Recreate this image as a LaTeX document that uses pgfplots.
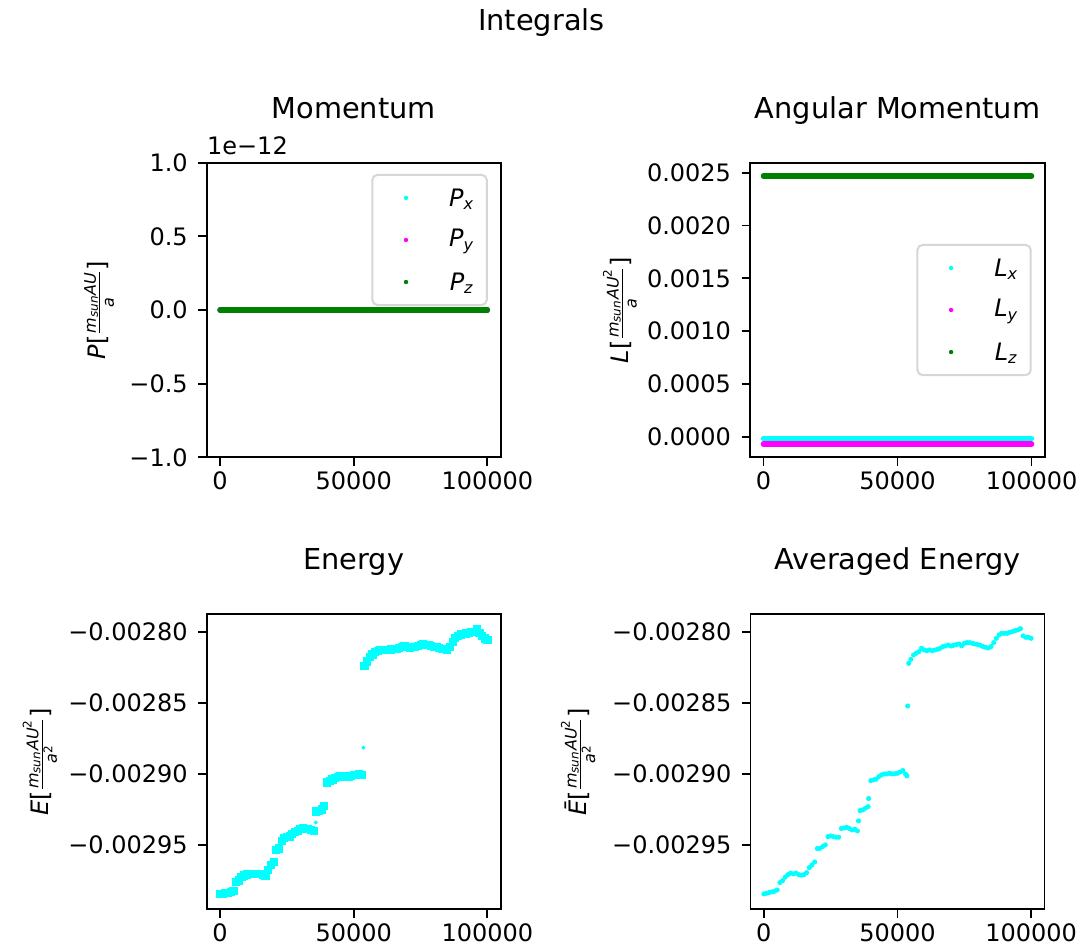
\documentclass[border=0pt]{standalone}
\usepackage{pgfplots}
\pgfplotsset{compat=1.18}
\usepackage{pgfplotstable}
\usepackage{amsmath}
\usepackage{fontspec}
\setmainfont{DejaVu Sans}

\definecolor{mcyan}{HTML}{00FFFF}
\definecolor{mmagenta}{HTML}{FF00FF}
\definecolor{mgreen}{HTML}{008000}

% constant integrals (momentum and angular momentum)
\pgfplotstableread{
t      px py pz lx         ly         lz
0      0  0  0  -0.0000189 -0.0000694 0.0024684
10000  0  0  0  -0.0000189 -0.0000694 0.0024684
20000  0  0  0  -0.0000189 -0.0000694 0.0024684
30000  0  0  0  -0.0000189 -0.0000694 0.0024684
40000  0  0  0  -0.0000189 -0.0000694 0.0024684
50000  0  0  0  -0.0000189 -0.0000694 0.0024684
60000  0  0  0  -0.0000189 -0.0000694 0.0024684
70000  0  0  0  -0.0000189 -0.0000694 0.0024684
80000  0  0  0  -0.0000189 -0.0000694 0.0024684
90000  0  0  0  -0.0000189 -0.0000694 0.0024684
100000 0  0  0  -0.0000189 -0.0000694 0.0024684
}\consttab

% energy
\pgfplotstableread{
t e
0 -0.0029847
1000 -0.0029845
2000 -0.0029840
3000 -0.0029837
4000 -0.0029833
5000 -0.0029825
6000 -0.0029760
7000 -0.0029750
8000 -0.0029725
9000 -0.0029715
10000 -0.0029708
11000 -0.0029705
12000 -0.0029704
13000 -0.0029702
14000 -0.0029704
15000 -0.0029706
16000 -0.0029710
17000 -0.0029715
18000 -0.0029675
19000 -0.0029640
20000 -0.0029620
21000 -0.0029535
22000 -0.0029525
23000 -0.0029470
24000 -0.0029450
25000 -0.0029445
26000 -0.0029440
27000 -0.0029420
28000 -0.0029410
29000 -0.0029400
30000 -0.0029390
31000 -0.0029380
32000 -0.0029385
33000 -0.0029390
34000 -0.0029395
35000 -0.0029400
36000 -0.0029265
37000 -0.0029260
38000 -0.0029250
39000 -0.0029225
40000 -0.0029060
41000 -0.0029050
42000 -0.0029040
43000 -0.0029030
44000 -0.0029022
45000 -0.0029018
46000 -0.0029015
47000 -0.0029020
48000 -0.0029018
49000 -0.0029012
50000 -0.0029010
51000 -0.0029005
52000 -0.0029000
53000 -0.0029010
54000 -0.0028240
55000 -0.0028210
56000 -0.0028180
57000 -0.0028160
58000 -0.0028145
59000 -0.0028135
60000 -0.0028130
61000 -0.0028128
62000 -0.0028130
63000 -0.0028128
64000 -0.0028125
65000 -0.0028122
66000 -0.0028120
67000 -0.0028112
68000 -0.0028105
69000 -0.0028100
70000 -0.0028105
71000 -0.0028112
72000 -0.0028110
73000 -0.0028105
74000 -0.0028100
75000 -0.0028095
76000 -0.0028090
77000 -0.0028092
78000 -0.0028095
79000 -0.0028100
80000 -0.0028105
81000 -0.0028110
82000 -0.0028115
83000 -0.0028120
84000 -0.0028122
85000 -0.0028128
86000 -0.0028105
87000 -0.0028070
88000 -0.0028042
89000 -0.0028028
90000 -0.0028019
91000 -0.0028015
92000 -0.0028012
93000 -0.0028008
94000 -0.0028004
95000 -0.0028000
96000 -0.0027984
97000 -0.0028007
98000 -0.0028030
99000 -0.0028047
100000 -0.0028059
}\energytab

% averaged energy
\pgfplotstableread{
t e
0 -0.0029845
1000 -0.0029840
2000 -0.0029835
3000 -0.0029831
4000 -0.0029826
5000 -0.0029817
6000 -0.0029765
7000 -0.0029751
8000 -0.0029727
9000 -0.0029709
10000 -0.0029699
11000 -0.0029704
12000 -0.0029699
13000 -0.0029709
14000 -0.0029713
15000 -0.0029709
16000 -0.0029695
17000 -0.0029660
18000 -0.0029641
19000 -0.0029620
20000 -0.0029526
21000 -0.0029524
22000 -0.0029512
23000 -0.0029500
24000 -0.0029442
25000 -0.0029437
26000 -0.0029442
27000 -0.0029446
28000 -0.0029446
29000 -0.0029385
30000 -0.0029381
31000 -0.0029376
32000 -0.0029385
33000 -0.0029395
34000 -0.0029390
35000 -0.0029402
35400 -0.0029331
36000 -0.0029259
37000 -0.0029254
38000 -0.0029242
39000 -0.0029231
39200 -0.0029174
40000 -0.0029048
41000 -0.0029043
42000 -0.0029038
43000 -0.0029020
44000 -0.0029008
45000 -0.0029001
46000 -0.0029001
47000 -0.0028996
48000 -0.0029001
49000 -0.0028999
50000 -0.0028996
51000 -0.0028987
52000 -0.0028977
53000 -0.0029001
53500 -0.0029015
53800 -0.0028523
54200 -0.0028223
55000 -0.0028195
56000 -0.0028164
57000 -0.0028152
58000 -0.0028141
59000 -0.0028117
60000 -0.0028129
61000 -0.0028134
62000 -0.0028129
63000 -0.0028134
64000 -0.0028129
65000 -0.0028124
66000 -0.0028117
67000 -0.0028105
68000 -0.0028101
69000 -0.0028094
70000 -0.0028101
71000 -0.0028096
72000 -0.0028091
73000 -0.0028087
74000 -0.0028100
75000 -0.0028082
76000 -0.0028077
77000 -0.0028077
78000 -0.0028082
79000 -0.0028087
80000 -0.0028091
81000 -0.0028096
82000 -0.0028105
83000 -0.0028110
84000 -0.0028115
85000 -0.0028105
86000 -0.0028077
87000 -0.0028047
88000 -0.0028023
89000 -0.0028012
90000 -0.0028012
91000 -0.0028012
92000 -0.0028005
93000 -0.0028000
94000 -0.0027993
95000 -0.0027988
96000 -0.0027979
97000 -0.0028030
98000 -0.0028040
99000 -0.0028040
100000 -0.0028047
}\avgtab

\pgfplotsset{
  mpl/.style={
    scale only axis, anchor=south west,
    width=147pt, height=147.3pt,
    xmin=-5000, xmax=105000,
    scaled ticks=false,
    axis line style={line width=0.9pt},
    tick align=outside, tick pos=left,
    major tick length=4.2pt,
    every tick/.style={black, line width=0.9pt},
    xtick={0,50000,100000}, xticklabels={0,50000,100000},
    ticklabel style={font=\fontsize{12}{14}\selectfont, inner sep=0pt},
    xticklabel shift=2.6pt, yticklabel shift=5.1pt,
    every axis title shift=0pt,
    title style={at={(axis description cs:0.5,1)}, anchor=base, yshift=22.3pt,
      inner sep=0pt, font=\fontsize{14.4}{17}\selectfont},
    ylabel style={anchor=center, inner sep=0pt, font=\fontsize{12}{14}\selectfont},
    legend image code/.code={\path[draw=none, fill=none] (0pt,-5pt) rectangle (38.4pt,5pt);
      \fill[draw=none] (16.8pt,0pt) circle (1.1pt);},
    legend style={draw=black!16, line width=1pt, rounded corners=2.5pt,
      fill=white, inner xsep=0pt, inner ysep=5.6pt, row sep=8.4pt,
      nodes={inner sep=0pt, text depth=},
      font=\fontsize{12}{14}\selectfont},
  },
  constline/.style={no marks, line width=2.7pt, line cap=round},
}

\newcommand{\legtxt}[2]{\rule[-1.6pt]{0pt}{11.6pt}$\textit{#1}_{\textit{#2}}$\rule{6.3pt}{0pt}}

\begin{document}
\begin{tikzpicture}
\path[use as bounding box] (0,0) rectangle (539pt,474.5pt);

\node[anchor=base, inner sep=0pt, font=\fontsize{14.4}{17}\selectfont] at (270.75pt,459.2pt) {Integrals};

% Momentum
\begin{axis}[mpl, name=mom, at={(103.35pt,245.85pt)},
  title={Momentum},
  ymin=-1, ymax=1,
  ytick={-1,-0.5,0,0.5,1}, yticklabels={−1.0,−0.5,0.0,0.5,1.0},
  ylabel={\textit{P}[$\frac{\textit{m}_{\textit{sun}}\textit{AU}}{\textit{a}}$]},
  ylabel style={at={(axis description cs:-0.366,0.5)}},
  legend style={at={(axis description cs:0.956,0.962)}, anchor=north east},
]
\addplot[constline, color=mcyan] table[x=t, y=px] {\consttab};
\addlegendentry{\legtxt{P}{x}}
\addplot[constline, color=mmagenta] table[x=t, y=py] {\consttab};
\addlegendentry{\legtxt{P}{y}}
\addplot[constline, color=mgreen] table[x=t, y=pz] {\consttab};
\addlegendentry{\legtxt{P}{z}}
\end{axis}
\node[anchor=base west, inner sep=0pt, font=\fontsize{12}{14}\selectfont]
  at ([yshift=3.9pt]mom.north west) {1e−12};

% Angular momentum
\begin{axis}[mpl, at={(375pt,245.85pt)}, width=147.5pt,
  title={Angular Momentum},
  ymin=-0.0001957, ymax=0.0025947,
  ytick={0,0.0005,0.001,0.0015,0.002,0.0025},
  yticklabels={0.0000,0.0005,0.0010,0.0015,0.0020,0.0025},
  ylabel={\textit{L}[$\frac{\textit{m}_{\textit{sun}}\textit{AU}^{\text{2}}}{\textit{a}}$]},
  ylabel style={at={(axis description cs:-0.441,0.5)}},
  legend style={at={(axis description cs:0.955,0.5)}, anchor=east},
]
\addplot[constline, color=mcyan] table[x=t, y=lx] {\consttab};
\addlegendentry{\legtxt{L}{x}}
\addplot[constline, color=mmagenta] table[x=t, y=ly] {\consttab};
\addlegendentry{\legtxt{L}{y}}
\addplot[constline, color=mgreen] table[x=t, y=lz] {\consttab};
\addlegendentry{\legtxt{L}{z}}
\end{axis}

% Energy
\begin{axis}[mpl, at={(103.35pt,19.85pt)}, height=147.5pt,
  title={Energy},
  ymin=-0.0029953, ymax=-0.0027878,
  ytick={-0.00295,-0.0029,-0.00285,-0.0028},
  yticklabels={−0.00295,−0.00290,−0.00285,−0.00280},
  ylabel={\textit{E}[$\frac{\textit{m}_{\textit{sun}}\textit{AU}^{\text{2}}}{\textit{a}^{\text{2}}}$]},
  ylabel style={at={(axis description cs:-0.567,0.5)}},
]
\addplot[only marks, mark=square*, mark size=1.8pt, color=mcyan] table[x=t, y=e] {\energytab};
\addplot[only marks, mark=*, mark size=0.8pt, color=mcyan] coordinates {
  (35800,-0.0029343) (53600,-0.0028816)};
\end{axis}

% Averaged energy
\begin{axis}[mpl, at={(375.25pt,19.85pt)}, height=147.5pt,
  title={Averaged Energy},
  ymin=-0.0029953, ymax=-0.0027878,
  ytick={-0.00295,-0.0029,-0.00285,-0.0028},
  yticklabels={−0.00295,−0.00290,−0.00285,−0.00280},
  ylabel={\textit{Ē}[$\frac{\textit{m}_{\textit{sun}}\textit{AU}^{\text{2}}}{\textit{a}^{\text{2}}}$]},
  ylabel style={at={(axis description cs:-0.586,0.5)}},
]
\addplot[only marks, mark=*, mark size=1.05pt, color=mcyan] table[x=t, y=e] {\avgtab};
\end{axis}
\end{tikzpicture}
\end{document}
